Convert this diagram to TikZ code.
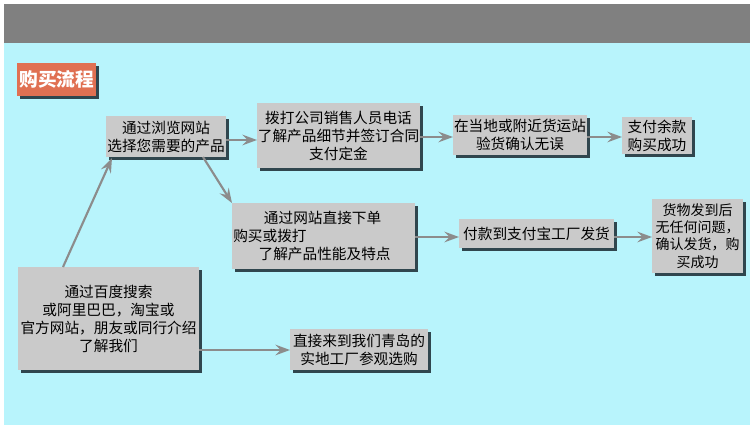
\documentclass[tikz,border=0pt]{standalone}
\usepackage{fontspec}
\setmainfont{Noto Sans CJK SC}
\usetikzlibrary{arrows.meta}
\definecolor{bgcyan}{RGB}{184,244,252}
\definecolor{topgray}{RGB}{128,128,128}
\definecolor{titleorange}{RGB}{224,112,82}
\definecolor{shadowc}{RGB}{48,70,78}
\definecolor{boxgray}{RGB}{202,202,202}
\definecolor{arrowgray}{RGB}{140,140,140}
\tikzset{
  stepbox/.style={fill=boxgray, inner sep=0pt, outer sep=0pt},
  steptext/.style={font=\fontsize{11}{13.5}\selectfont, text=black, inner sep=0pt},
  shadowbox/.style={fill=shadowc},
  flow/.style={draw=arrowgray, line width=1.6pt, -{Stealth[length=11pt,width=8pt,inset=4pt]}},
}
\newcommand{\stepat}[6]{% name, x1, y1, x2, y2, text
  \fill[shadowbox] (#2+3,#3+3) rectangle (#4+3,#5+3);
  \node[stepbox, minimum width={(#4-#2)*0.75pt}, minimum height={(#5-#3)*0.75pt}, anchor=north west] (#1) at (#2,#3) {};
  \node[steptext, align=center] at (#1.center) {#6};
}
\begin{document}
\begin{tikzpicture}[x=0.75pt,y=-0.75pt]
\useasboundingbox (0,0) rectangle (750,432);
\fill[white] (0,0) rectangle (750,432);
\fill[topgray] (4,4) rectangle (750,43);
\fill[bgcyan] (4,43) rectangle (750,425);
% title
\fill[shadowc] (20,66) rectangle (99,99);
\node[fill=titleorange, minimum width=79*0.75pt, minimum height=33*0.75pt, anchor=north west, inner sep=0pt, text=white, font=\fontsize{14}{14}\selectfont\bfseries] (title) at (17,63) {购买流程};
% boxes
\stepat{browse}{106}{116}{226}{157}{通过浏览网站\\选择您需要的产品}
\stepat{call}{257}{103}{420}{168}{拨打公司销售人员电话\\了解产品细节并签订合同\\支付定金}
\stepat{inspect}{453}{115}{587}{155}{在当地或附近货运站\\验货确认无误}
\stepat{paybal}{622}{117}{692}{154}{支付余款\\购买成功}
\fill[shadowbox] (235,206) rectangle (418,272);
\node[stepbox, minimum width=183*0.75pt, minimum height=66*0.75pt, anchor=north west] (order) at (232,203) {};
\node[steptext, align=left, anchor=west] at (233,236) {\hspace*{23pt}通过网站直接下单\\购买或拨打\\\hspace*{19pt}了解产品性能及特点};
\stepat{alipay}{459}{219}{614}{248}{付款到支付宝工厂发货}
\fill[shadowbox] (655,202) rectangle (746,276);
\node[stepbox, minimum width=91*0.75pt, minimum height=74*0.75pt, anchor=north west] (ship) at (652,199) {};
\node[steptext, font=\fontsize{10.5}{13}\selectfont, align=center] at (ship.center) {货物发到后\\无任何问题，\\确认发货，购\\买成功};
\stepat{search}{18}{267}{199}{370}{通过百度搜索\\或阿里巴巴，淘宝或\\官方网站，朋友或同行介绍\\了解我们}
\stepat{visit}{290}{329}{428}{370}{直接来到我们青岛的\\实地工厂参观选购}
% arrows
\draw[flow] (browse.east |- 0,140) -- (call.west |- 0,140);
\draw[flow] (call.east |- 0,137) -- (inspect.west |- 0,137);
\draw[flow] (inspect.east |- 0,137) -- (paybal.west |- 0,137);
\draw[flow] (browse.south -| 203,0) -- (order.north -| 232,0);
\draw[flow] (order.east |- 0,237) -- (alipay.west |- 0,237);
\draw[flow] (alipay.east |- 0,237) -- (ship.west |- 0,237);
\draw[flow] (search.north -| 63,0) -- (112,158);
\draw[flow] (search.east |- 0,350) -- (visit.west |- 0,350);
\end{tikzpicture}
\end{document}
